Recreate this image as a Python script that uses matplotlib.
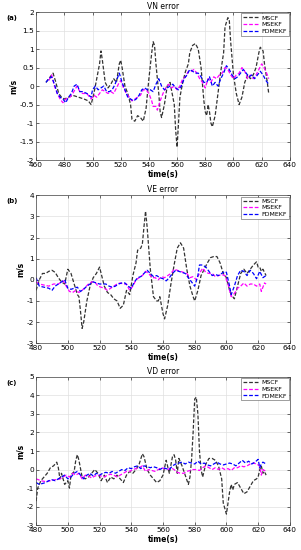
import matplotlib
matplotlib.use("Agg")
import matplotlib.pyplot as plt

# ---- (a) VN error ----
vn_mscf_t = [467, 470, 472, 474, 476, 478, 480, 483, 486, 490, 494, 497, 499, 501, 503, 505, 506, 507, 509, 511,
             513, 515, 517, 519, 520, 521, 523, 525, 527, 528, 530, 532, 534, 536, 538, 540, 542, 543, 544, 545,
             547, 548, 549, 551, 553, 555, 557, 558, 559, 560, 561, 562, 564, 566, 568, 569, 571, 573, 575, 577,
             579, 580, 581, 582, 583, 584, 585, 587, 589, 591, 593, 594, 596, 597, 598, 600, 602, 604, 606, 608,
             610, 612, 614, 616, 618, 619, 621, 622, 624, 625]
vn_mscf = [0.1, 0.25, 0.35, 0.1, -0.2, -0.3, -0.35, -0.3, -0.25, -0.3, -0.35, -0.4, -0.5, -0.2, 0.2, 0.6, 0.95, 0.7, 0.1, -0.05,
           0.05, 0.2, 0.1, 0.6, 0.7, 0.5, 0.0, -0.2, -0.5, -0.9, -0.95, -0.8, -0.85, -0.95, -0.6, 0.2, 0.9, 1.2, 1.1, 0.6,
           -0.2, -0.7, -0.85, -0.5, 0.0, 0.1, -0.3, -0.5, -1.2, -1.65, -1.0, -0.3, 0.1, 0.4, 0.6, 0.9, 1.1, 1.15, 1.0, 0.5,
           -0.4, -0.7, -0.8, -0.5, -0.7, -1.0, -1.1, -0.8, -0.2, 0.4, 0.9, 1.6, 1.85, 1.8, 1.2, 0.3, -0.2, -0.5, -0.3, 0.1,
           0.3, 0.2, 0.3, 0.5, 0.9, 1.05, 0.95, 0.6, 0.1, -0.2]
vn_msekf_t = [469, 471, 473, 475, 477, 479, 481, 484, 486, 489, 491, 493, 496, 499, 501, 503, 505, 507, 509, 511,
              513, 515, 517, 519, 520, 522, 524, 526, 528, 530, 532, 534, 536, 538, 540, 542, 543, 545, 546, 548,
              550, 552, 554, 556, 558, 560, 562, 564, 566, 568, 570, 572, 574, 576, 578, 580, 582, 584, 586, 588,
              590, 592, 594, 596, 598, 600, 602, 604, 606, 608, 610, 612, 614, 616, 618, 620, 621, 623, 625]
vn_msekf = [0.15, 0.3, 0.0, -0.2, -0.35, -0.45, -0.35, -0.3, -0.2, 0.0, -0.15, -0.2, -0.2, -0.35, -0.25, -0.3, -0.2, -0.1, -0.15, -0.2,
            -0.15, -0.2, -0.05, 0.1, 0.15, -0.05, -0.2, -0.3, -0.4, -0.35, -0.3, -0.25, -0.1, -0.1, -0.2, -0.4, -0.55, -0.55, -0.65, -0.4,
            -0.2, -0.05, 0.05, -0.05, 0.0, -0.1, 0.0, 0.2, 0.25, 0.4, 0.4, 0.45, 0.35, 0.2, 0.1, -0.05, 0.2, 0.1, 0.25, 0.2,
            0.3, 0.35, 0.5, 0.45, 0.3, 0.2, 0.3, 0.35, 0.5, 0.4, 0.2, 0.3, 0.2, 0.3, 0.45, 0.6, 0.55, 0.4, 0.2]
vn_fdmekf_t = [467, 469, 471, 473, 475, 477, 479, 481, 483, 485, 487, 489, 491, 493, 496, 499, 500, 502, 504, 506,
               508, 510, 512, 514, 516, 518, 519, 521, 523, 525, 527, 529, 531, 533, 535, 537, 539, 541, 543, 545,
               547, 549, 551, 553, 555, 557, 559, 561, 563, 565, 567, 569, 571, 573, 575, 577, 579, 581, 583, 585,
               587, 589, 591, 593, 595, 597, 599, 601, 603, 605, 607, 609, 611, 613, 615, 617, 619, 621, 623, 625]
vn_fdmekf = [0.1, 0.2, 0.25, 0.05, -0.2, -0.3, -0.35, -0.45, -0.3, -0.2, 0.0, 0.05, -0.15, -0.15, -0.2, -0.3, -0.1, 0.0, -0.1, -0.05,
             0.0, -0.15, -0.15, -0.1, 0.05, 0.25, 0.35, 0.1, -0.1, -0.3, -0.35, -0.4, -0.35, -0.25, -0.1, -0.05, -0.1, -0.1, -0.15, 0.05,
             0.2, 0.0, -0.1, -0.05, 0.0, 0.05, -0.05, -0.1, 0.0, 0.2, 0.3, 0.45, 0.4, 0.35, 0.35, 0.25, 0.1, 0.1, 0.25, 0.0,
             0.1, 0.0, 0.2, 0.35, 0.55, 0.45, 0.3, 0.2, 0.25, 0.35, 0.45, 0.35, 0.25, 0.3, 0.2, 0.3, 0.4, 0.3, 0.15, 0.05]

# ---- (b) VE error ----
ve_mscf_t = [480, 482, 484, 486, 488, 490, 492, 494, 496, 498, 500, 502, 504, 506, 507, 508, 509, 510, 512, 514,
             516, 518, 520, 521, 523, 525, 527, 529, 531, 533, 535, 537, 539, 541, 543, 544, 546, 547, 548, 549,
             550, 552, 554, 556, 557, 558, 559, 560, 561, 563, 565, 567, 569, 571, 573, 575, 577, 579, 580, 582,
             584, 586, 588, 590, 592, 594, 596, 598, 600, 602, 603, 605, 607, 609, 611, 613, 615, 617, 619, 620,
             621, 622, 623, 625]
ve_mscf = [-0.5, 0.0, 0.3, 0.3, 0.4, 0.45, 0.35, 0.1, -0.1, -0.2, 0.5, 0.3, -0.2, -0.7, -0.8, -1.5, -2.3, -2.0, -1.0, -0.3,
           0.1, 0.3, 0.6, 0.3, -0.3, -0.6, -0.7, -0.9, -1.0, -1.35, -1.2, -0.5, -0.7, 0.2, 0.8, 1.4, 1.5, 1.7, 2.5, 3.25,
           2.5, 0.5, -0.8, -1.0, -1.0, -0.8, -1.2, -1.6, -1.85, -1.2, -0.2, 0.7, 1.5, 1.75, 1.5, 0.5, -0.3, -0.8, -1.0, -0.5,
           0.2, 0.5, 0.8, 1.05, 1.1, 1.1, 0.8, 0.3, 0.1, -0.5, -0.7, -0.9, -0.3, 0.3, 0.5, 0.3, 0.5, 0.7, 0.85, 0.6,
           0.6, 0.4, 0.5, 0.2]
ve_msekf_t = [480, 482, 485, 488, 491, 494, 497, 499, 501, 503, 505, 507, 509, 511, 513, 515, 517, 519, 521, 523,
              525, 527, 529, 531, 533, 535, 537, 539, 541, 543, 545, 547, 549, 551, 553, 555, 557, 559, 561, 563,
              565, 567, 569, 571, 573, 575, 577, 579, 581, 583, 585, 587, 589, 591, 593, 595, 597, 599, 601, 603,
              605, 607, 609, 611, 613, 615, 617, 619, 621, 622, 624, 625]
ve_msekf = [-0.1, -0.2, -0.25, -0.3, -0.2, -0.2, -0.05, -0.3, -0.55, -0.6, -0.5, -0.6, -0.5, -0.35, -0.2, -0.1, -0.1, -0.3, -0.35, -0.4,
            -0.5, -0.4, -0.3, -0.2, -0.15, -0.2, -0.2, -0.5, -0.3, 0.0, 0.1, 0.2, 0.4, 0.3, 0.1, 0.1, 0.0, 0.15, 0.1, 0.2,
            0.3, 0.5, 0.45, 0.4, 0.35, 0.3, 0.1, 0.15, 0.0, 0.3, 0.55, 0.35, 0.3, 0.3, 0.15, 0.2, 0.25, 0.2, -0.2, -0.8,
            -0.65, -0.4, -0.3, -0.15, -0.3, -0.2, -0.2, -0.3, -0.2, -0.55, -0.15, -0.2]
ve_fdmekf_t = [480, 482, 485, 488, 490, 492, 494, 496, 498, 500, 502, 504, 506, 508, 510, 512, 514, 516, 518, 520,
               522, 524, 526, 528, 530, 532, 534, 536, 538, 540, 542, 544, 546, 548, 550, 552, 554, 556, 558, 560,
               562, 564, 566, 568, 570, 572, 574, 576, 578, 580, 582, 583, 585, 587, 589, 591, 593, 595, 597, 599,
               600, 602, 603, 605, 607, 609, 611, 613, 615, 617, 619, 621, 623, 625]
ve_fdmekf = [0.1, -0.3, -0.35, -0.4, -0.5, -0.3, -0.2, -0.1, 0.0, -0.4, -0.45, -0.4, -0.35, -0.55, -0.45, -0.3, -0.2, -0.1, -0.15, -0.2,
             -0.2, -0.2, -0.3, -0.35, -0.3, -0.2, -0.15, -0.15, -0.3, -0.4, -0.1, 0.1, 0.15, 0.3, 0.45, 0.3, 0.15, 0.2, 0.1, 0.05,
             -0.05, 0.1, 0.3, 0.45, 0.4, 0.35, 0.3, 0.1, -0.1, -0.3, 0.2, 0.7, 0.7, 0.6, 0.4, 0.2, 0.25, 0.2, 0.3, 0.4,
             0.35, -0.3, -0.7, -0.3, 0.2, 0.45, 0.4, 0.2, 0.45, 0.3, 0.05, 0.4, 0.1, 0.2]

# ---- (c) VD error ----
vd_mscf_t = [480, 481, 483, 485, 487, 489, 491, 493, 494, 495, 496, 498, 500, 501, 502, 504, 505, 506, 507, 509,
             511, 513, 515, 517, 519, 521, 523, 525, 527, 529, 531, 533, 535, 537, 539, 541, 543, 545, 547, 548,
             550, 552, 554, 556, 558, 560, 562, 564, 566, 567, 568, 569, 570, 572, 574, 576, 577, 578, 579, 580,
             581, 582, 583, 584, 585, 587, 589, 591, 593, 595, 597, 598, 599, 600, 601, 602, 603, 604, 605, 607,
             609, 611, 613, 615, 617, 619, 620, 621, 622, 623, 624, 625]
vd_mscf = [-1.7, -1.0, -0.6, -0.4, -0.2, 0.1, 0.2, 0.4, 0.1, -0.5, -0.2, -0.8, -0.6, -1.0, -0.3, -0.1, 0.5, 0.8, 0.5, -0.4,
           -0.5, -0.4, -0.2, 0.0, -0.2, -0.6, -0.3, -0.7, -0.4, -0.5, -0.3, -0.5, -0.7, -0.3, -0.1, -0.2, 0.0, 0.3, 0.85, 0.7,
           0.0, -0.3, -0.5, -0.7, -0.6, -0.3, 0.5, -0.2, 0.7, 0.8, 0.5, -0.2, 0.6, 0.2, -0.3, -0.8, -0.4, 0.5, 2.0, 3.8,
           3.9, 3.0, 1.0, 0.0, -0.4, 0.3, 0.6, 0.6, 0.5, 0.2, -0.5, -1.8, -2.1, -2.4, -1.8, -1.2, -0.8, -1.1, -0.8, -0.7,
           -1.0, -1.3, -1.2, -0.9, -0.6, -0.5, -0.4, 0.0, 0.2, -0.2, -0.1, -0.3]
vd_msekf_t = [480, 483, 486, 489, 492, 495, 497, 499, 501, 503, 505, 507, 509, 511, 513, 515, 517, 519, 521, 523,
              525, 527, 529, 531, 533, 535, 537, 539, 541, 543, 545, 547, 549, 551, 553, 555, 557, 559, 561, 563,
              565, 567, 569, 571, 573, 575, 577, 579, 581, 583, 585, 587, 589, 591, 593, 595, 597, 599, 601, 603,
              605, 607, 609, 611, 613, 615, 617, 619, 621, 622, 623, 625]
vd_msekf = [-0.5, -0.6, -0.65, -0.6, -0.55, -0.5, -0.4, -0.3, -0.4, -0.2, -0.3, -0.2, -0.5, -0.3, -0.35, -0.45, -0.35, -0.3, -0.35, -0.4,
            -0.3, -0.25, -0.3, -0.4, -0.3, -0.2, -0.1, -0.1, 0.0, 0.05, 0.1, 0.2, -0.1, 0.0, -0.05, -0.1, 0.0, 0.1, 0.05, 0.0,
            0.1, 0.0, -0.15, -0.2, -0.2, -0.1, -0.05, 0.0, 0.0, -0.05, 0.1, 0.2, 0.1, 0.0, 0.1, 0.0, 0.1, 0.0, 0.05, -0.05,
            0.1, 0.1, 0.2, 0.15, 0.2, 0.3, 0.35, 0.3, 0.2, -0.3, 0.0, -0.1]
vd_fdmekf_t = [480, 482, 484, 486, 488, 490, 492, 494, 496, 498, 500, 502, 504, 506, 508, 510, 512, 514, 516, 518,
               520, 522, 524, 526, 528, 530, 532, 534, 536, 538, 540, 542, 544, 546, 548, 550, 552, 554, 556, 558,
               560, 562, 564, 566, 568, 570, 572, 574, 576, 578, 580, 582, 584, 586, 588, 590, 592, 594, 596, 598,
               600, 602, 604, 606, 608, 610, 612, 614, 616, 618, 620, 621, 622, 623, 625]
vd_fdmekf = [-0.7, -0.8, -0.75, -0.7, -0.6, -0.55, -0.6, -0.5, -0.4, -0.3, -0.5, -0.4, -0.2, -0.1, -0.3, -0.5, -0.3, -0.2, -0.35, -0.2,
             -0.3, -0.2, -0.15, -0.2, -0.1, -0.2, -0.1, 0.0, -0.05, 0.1, 0.05, 0.15, 0.2, 0.05, 0.2, 0.15, 0.1, 0.15, 0.1, 0.0,
             0.1, 0.05, 0.0, 0.2, 0.3, 0.35, 0.4, 0.3, 0.4, 0.35, 0.3, 0.45, 0.3, 0.35, 0.25, 0.2, 0.3, 0.4, 0.3, 0.25,
             0.3, 0.35, 0.3, 0.2, 0.35, 0.5, 0.35, 0.45, 0.3, 0.4, 0.55, 0.1, 0.3, 0.4, 0.3]

labels = ['MSCF', 'MSEKF', 'FDMEKF']
colors = ['#333333', '#ff00ff', '#0000ff']

panels = [
    ('(a)', 'VN error', [0.12, 0.709, 0.843, 0.269], (460, 640), (-2, 2), 0.5,
     [(vn_mscf_t, vn_mscf), (vn_msekf_t, vn_msekf), (vn_fdmekf_t, vn_fdmekf)]),
    ('(b)', 'VE error', [0.12, 0.376, 0.843, 0.269], (480, 640), (-3, 4), 1,
     [(ve_mscf_t, ve_mscf), (ve_msekf_t, ve_msekf), (ve_fdmekf_t, ve_fdmekf)]),
    ('(c)', 'VD error', [0.12, 0.045, 0.843, 0.270], (480, 640), (-3, 5), 1,
     [(vd_mscf_t, vd_mscf), (vd_msekf_t, vd_msekf), (vd_fdmekf_t, vd_fdmekf)]),
]

fig = plt.figure(figsize=(3.01, 5.5), dpi=100)
for tag, title, pos, xl, yl, ystep, series in panels:
    ax = fig.add_axes(pos)
    for (t, v), lab, c in zip(series, labels, colors):
        ax.plot(t, v, '--', color=c, lw=0.9, label=lab, dashes=(3, 1.5))
    ax.set_xlim(*xl)
    ax.set_ylim(*yl)
    ax.set_xticks(range(xl[0], xl[1] + 1, 20))
    yt = []
    y = yl[0]
    while y <= yl[1] + 1e-9:
        yt.append(y)
        y += ystep
    ax.set_yticks(yt)
    ax.set_yticklabels(['%g' % v for v in yt])
    ax.grid(True, color='#e0e0e0', lw=0.5)
    ax.tick_params(labelsize=5.3, direction='in', length=2, width=0.4, top=True, right=True, pad=1.5)
    for s in ax.spines.values():
        s.set_linewidth(0.5)
        s.set_color('#444444')
    ax.set_title(title, fontsize=5.5, pad=2)
    ax.set_xlabel('time(s)', fontsize=5.5, fontweight='bold', labelpad=1)
    ax.set_ylabel('m/s', fontsize=5.5, fontweight='bold', labelpad=1)
    ax.legend(loc='upper right', fontsize=4.5, frameon=True, fancybox=False, edgecolor='#555555',
              framealpha=1, borderpad=0.3, labelspacing=0.2, handlelength=2.5, handletextpad=0.4,
              borderaxespad=0.2).get_frame().set_linewidth(0.4)
    fig.text(0.02, pos[1] + pos[3] - 0.005, tag, fontsize=5, fontweight='bold', va='top')

fig.savefig('out.png', dpi=100)
